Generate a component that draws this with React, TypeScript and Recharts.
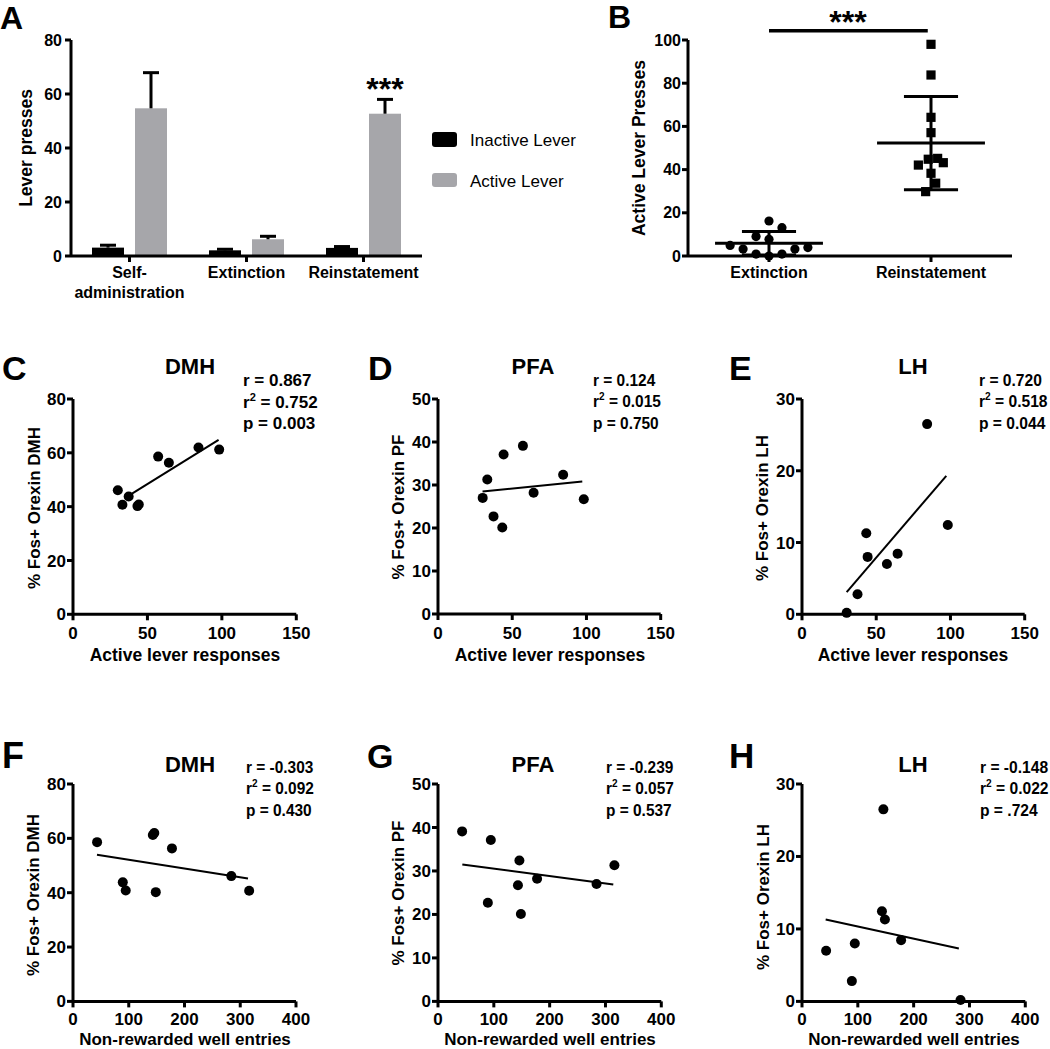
import React from 'react';
import { BarChart, Bar, XAxis, YAxis, ScatterChart, Scatter, ReferenceLine } from 'recharts';

const FONT = 'Arial, "Liberation Sans", Helvetica, sans-serif';

// ---------------- Panel A data ----------------
const phaseCategories = ['Self-administration', 'Extinction', 'Reinstatement'];
const inactiveMeans = [3.1, 2.1, 3.0];
const inactiveSem = [0.9, 0.4, 0.5];
const activeMeans = [54.7, 6.2, 52.7];
const activeSem = [13.2, 1.1, 5.3];
const leverTicks = [0, 20, 40, 60, 80];

// ---------------- Panel B data ----------------
const groupLabels = ['Extinction', 'Reinstatement'];
const groupCenters = [0.5, 1.5];
const extinctionPresses = [16.2, 13.1, 9.0, 7.7, 4.9, 3.2, 3.9, 3.2, 0.9, 0.9, 0.0];
const extinctionJitter = [0, 0.08, -0.08, 0, -0.24, -0.16, 0.24, 0.16, -0.08, 0.08, 0];
const reinstatementPresses = [98.0, 83.8, 64.2, 57.1, 45.2, 44.8, 43.2, 42.1, 38.3, 33.7, 29.8];
const reinstatementJitter = [0, 0, 0, 0, 0.041, -0.017, 0.076, -0.078, 0, 0.029, -0.033];
const groupMeans = [5.9, 52.3];
const groupSD = [5.4, 21.6];
const pressTicks = [0, 20, 40, 60, 80, 100];
const sigBarLevel = 104.3;

// ---------------- Panels C-H data (per animal) ----------------
const activeResponses = [30.1, 33.2, 37.4, 43.3, 44.2, 57.2, 64.4, 84.3, 98.2];
const wellEntries = [284, 316, 89.3, 148.5, 94.6, 43.2, 177.5, 145.8, 143.2];
const fosDMH = [46.1, 40.7, 43.8, 40.2, 40.8, 58.6, 56.3, 62.0, 61.2];
const fosPFA = [27.0, 31.3, 22.7, 20.1, 37.1, 39.1, 28.2, 32.4, 26.7];
const fosLH: (number | null)[] = [0.2, null, 2.8, 11.3, 8.0, 7.0, 8.45, 26.5, 12.45];

const activeTicks = [0, 50, 100, 150];
const wellTicks = [0, 100, 200, 300, 400];
const dmhTicks = [0, 20, 40, 60, 80];
const pfaTicks = [0, 10, 20, 30, 40, 50];
const lhTicks = [0, 10, 20, 30];

// regression line end points [x1, y1, x2, y2]
const fitC = [37.2, 44.0, 97.8, 64.8];
const fitD = [30.0, 28.5, 97.2, 30.8];
const fitE = [30.1, 3.1, 97.2, 19.3];
const fitF = [43.0, 54.0, 313.9, 45.2];
const fitG = [43.6, 31.5, 314.0, 26.9];
const fitH = [42.4, 11.3, 281.0, 7.3];

// stats text [r, r2, p]
const statsC = ['0.867', '0.752', '0.003'];
const statsD = ['0.124', '0.015', '0.750'];
const statsE = ['0.720', '0.518', '0.044'];
const statsF = ['-0.303', '0.092', '0.430'];
const statsG = ['-0.239', '0.057', '0.537'];
const statsH = ['-0.148', '0.022', '.724'];

// ---------------- shared styles ----------------
const axisLineStyle = { stroke: '#000', strokeWidth: 3 };
const tickLineStyle = { stroke: '#000', strokeWidth: 3 };

const dotShape = (props: any) => <circle cx={props.cx} cy={props.cy} r={5} fill="#000" />;
const smallDot = (props: any) => <circle cx={props.cx} cy={props.cy} r={4.6} fill="#000" />;
const squareShape = (props: any) => <rect x={props.cx - 4.6} y={props.cy - 4.6} width={9.2} height={9.2} fill="#000" />;

type Plot = { l: number; t: number; w: number; h: number };

const PAD_L = 60, PAD_T = 20, PAD_R = 20, PAD_B = 56, Y_W = 50, X_H = 46;

function frame(plot: Plot) {
  const W = plot.w + PAD_L + PAD_R;
  const H = plot.h + PAD_T + PAD_B;
  return {
    W,
    H,
    style: { position: 'absolute' as const, left: plot.l - PAD_L, top: plot.t - PAD_T, width: W, height: H },
    margin: { top: PAD_T, right: PAD_R, bottom: PAD_B - X_H, left: PAD_L - Y_W },
  };
}

// ---------------- Panel A ----------------
const barRows = phaseCategories.map((name, i) => ({
  name,
  inactive: inactiveMeans[i],
  active: activeMeans[i],
  inactiveErr: inactiveSem[i],
  activeErr: activeSem[i],
}));

const barWithError = (fill: string, valueKey: string, errKey: string) => (props: any) => {
  const { x, y, width, height, payload } = props;
  const v = payload[valueKey];
  const e = payload[errKey];
  const errPx = v > 0 ? (e * height) / v : 0;
  const cx = x + width / 2;
  const top = y - errPx;
  return (
    <g>
      <rect x={x} y={y} width={width} height={height} fill={fill} />
      <line x1={cx} y1={y} x2={cx} y2={top} stroke="#000" strokeWidth={3} />
      <line x1={cx - 8} x2={cx + 8} y1={top} y2={top} stroke="#000" strokeWidth={3} />
    </g>
  );
};

const PhaseTick = (props: any) => {
  const { x, y, payload } = props;
  const label: string = payload.value;
  const idx = label.indexOf('-');
  const lines = idx > 0 ? [label.slice(0, idx + 1), label.slice(idx + 1)] : [label];
  return (
    <text x={x} y={y} textAnchor="middle" fontSize={16} fontWeight={700} fill="#000" fontFamily={FONT}>
      {lines.map((l, i) => (
        <tspan key={i} x={x} dy={i === 0 ? '0.71em' : '1.2em'}>
          {l}
        </tspan>
      ))}
    </text>
  );
};

function PanelA() {
  const f = frame({ l: 70.7, t: 40, w: 351, h: 216 });
  return (
    <div style={f.style}>
      <BarChart width={f.W} height={f.H} data={barRows} margin={f.margin} barCategoryGap={21} barGap={11}>
        <XAxis
          dataKey="name"
          height={X_H}
          axisLine={axisLineStyle}
          tickLine={tickLineStyle}
          tickSize={6}
          tickMargin={5}
          tick={<PhaseTick />}
          interval={0}
        />
        <YAxis
          domain={[0, 80]}
          ticks={leverTicks}
          width={Y_W}
          axisLine={axisLineStyle}
          tickLine={tickLineStyle}
          tickSize={6}
          tickMargin={3}
          tick={{ fontSize: 16, fontWeight: 700, fill: '#000', fontFamily: FONT }}
          interval={0}
        />
        <Bar dataKey="inactive" fill="#000" isAnimationActive={false} shape={barWithError('#000', 'inactive', 'inactiveErr')} />
        <Bar dataKey="active" fill="#A6A6AA" isAnimationActive={false} shape={barWithError('#A6A6AA', 'active', 'activeErr')} />
      </BarChart>
    </div>
  );
}

// ---------------- Panel B ----------------
const extinctionPoints = extinctionPresses.map((y, i) => ({ x: groupCenters[0] + extinctionJitter[i], y }));
const reinstatementPoints = reinstatementPresses.map((y, i) => ({ x: groupCenters[1] + reinstatementJitter[i], y }));

function PanelB() {
  const f = frame({ l: 688, t: 40, w: 324, h: 216 });
  const MEAN_HALF = 0.333;
  const CAP_HALF = 0.167;
  return (
    <div style={f.style}>
      <ScatterChart width={f.W} height={f.H} margin={f.margin}>
        <XAxis
          type="number"
          dataKey="x"
          domain={[0, 2]}
          ticks={groupCenters}
          tickFormatter={(v: number) => groupLabels[groupCenters.indexOf(v)] ?? ''}
          height={X_H}
          axisLine={axisLineStyle}
          tickLine={tickLineStyle}
          tickSize={6}
          tickMargin={5}
          tick={{ fontSize: 16, fontWeight: 700, fill: '#000', fontFamily: FONT }}
          interval={0}
        />
        <YAxis
          type="number"
          dataKey="y"
          domain={[0, 100]}
          ticks={pressTicks}
          width={Y_W}
          axisLine={axisLineStyle}
          tickLine={tickLineStyle}
          tickSize={6}
          tickMargin={1}
          tick={{ fontSize: 16, fontWeight: 700, fill: '#000', fontFamily: FONT }}
          interval={0}
        />
        {groupCenters.map((c, i) => (
          <ReferenceLine
            key={'m' + i}
            segment={[{ x: c - MEAN_HALF, y: groupMeans[i] }, { x: c + MEAN_HALF, y: groupMeans[i] }]}
            stroke="#000"
            strokeWidth={3}
          />
        ))}
        {groupCenters.map((c, i) => (
          <ReferenceLine
            key={'u' + i}
            segment={[{ x: c - CAP_HALF, y: groupMeans[i] + groupSD[i] }, { x: c + CAP_HALF, y: groupMeans[i] + groupSD[i] }]}
            stroke="#000"
            strokeWidth={3}
          />
        ))}
        {groupCenters.map((c, i) => (
          <ReferenceLine
            key={'l' + i}
            segment={[{ x: c - CAP_HALF, y: groupMeans[i] - groupSD[i] }, { x: c + CAP_HALF, y: groupMeans[i] - groupSD[i] }]}
            stroke="#000"
            strokeWidth={3}
          />
        ))}
        {groupCenters.map((c, i) => (
          <ReferenceLine
            key={'v' + i}
            segment={[{ x: c, y: groupMeans[i] - groupSD[i] }, { x: c, y: groupMeans[i] + groupSD[i] }]}
            stroke="#000"
            strokeWidth={3}
          />
        ))}
        <ReferenceLine
          segment={[{ x: groupCenters[0], y: sigBarLevel }, { x: groupCenters[1] - 0.02, y: sigBarLevel }]}
          stroke="#000"
          strokeWidth={3.5}
          ifOverflow="visible"
        />
        <Scatter data={extinctionPoints} fill="#000" shape={smallDot} isAnimationActive={false} />
        <Scatter data={reinstatementPoints} fill="#000" shape={squareShape} isAnimationActive={false} />
      </ScatterChart>
    </div>
  );
}

// ---------------- Panels C-H ----------------
function buildPoints(xs: number[], ys: (number | null)[]) {
  const out: { x: number; y: number }[] = [];
  xs.forEach((x, i) => {
    const y = ys[i];
    if (y !== null && y !== undefined) out.push({ x, y });
  });
  return out;
}

type ScatterPanelProps = {
  plot: Plot;
  points: { x: number; y: number }[];
  xDomain: [number, number];
  xTicks: number[];
  yDomain: [number, number];
  yTicks: number[];
  fit: number[];
  xTickMargin: number;
};

function ScatterPanel({ plot, points, xDomain, xTicks, yDomain, yTicks, fit, xTickMargin }: ScatterPanelProps) {
  const f = frame(plot);
  const tickFont = { fontSize: 17, fontWeight: 700, fill: '#000', fontFamily: FONT };
  return (
    <div style={f.style}>
      <ScatterChart width={f.W} height={f.H} margin={f.margin}>
        <XAxis
          type="number"
          dataKey="x"
          domain={xDomain}
          ticks={xTicks}
          height={X_H}
          axisLine={axisLineStyle}
          tickLine={tickLineStyle}
          tickSize={6}
          tickMargin={xTickMargin}
          tick={tickFont}
          interval={0}
        />
        <YAxis
          type="number"
          dataKey="y"
          domain={yDomain}
          ticks={yTicks}
          width={Y_W}
          axisLine={axisLineStyle}
          tickLine={tickLineStyle}
          tickSize={6}
          tickMargin={1}
          tick={tickFont}
          interval={0}
        />
        <ReferenceLine
          segment={[{ x: fit[0], y: fit[1] }, { x: fit[2], y: fit[3] }]}
          stroke="#000"
          strokeWidth={2}
        />
        <Scatter data={points} fill="#000" shape={dotShape} isAnimationActive={false} />
      </ScatterChart>
    </div>
  );
}

const scatterPanels: ScatterPanelProps[] = [
  { plot: { l: 72.7, t: 399, w: 223.3, h: 215.3 }, points: buildPoints(activeResponses, fosDMH), xDomain: [0, 150], xTicks: activeTicks, yDomain: [0, 80], yTicks: dmhTicks, fit: fitC, xTickMargin: 7 },
  { plot: { l: 438, t: 399.3, w: 222.7, h: 215 }, points: buildPoints(activeResponses, fosPFA), xDomain: [0, 150], xTicks: activeTicks, yDomain: [0, 50], yTicks: pfaTicks, fit: fitD, xTickMargin: 7 },
  { plot: { l: 802.3, t: 399, w: 222.7, h: 215.3 }, points: buildPoints(activeResponses, fosLH), xDomain: [0, 150], xTicks: activeTicks, yDomain: [0, 30], yTicks: lhTicks, fit: fitE, xTickMargin: 7 },
  { plot: { l: 73, t: 784.3, w: 223, h: 217.4 }, points: buildPoints(wellEntries, fosDMH), xDomain: [0, 400], xTicks: wellTicks, yDomain: [0, 80], yTicks: dmhTicks, fit: fitF, xTickMargin: 6 },
  { plot: { l: 438, t: 784.3, w: 223.3, h: 217.4 }, points: buildPoints(wellEntries, fosPFA), xDomain: [0, 400], xTicks: wellTicks, yDomain: [0, 50], yTicks: pfaTicks, fit: fitG, xTickMargin: 6 },
  { plot: { l: 802, t: 784.3, w: 223.3, h: 217.4 }, points: buildPoints(wellEntries, fosLH), xDomain: [0, 400], xTicks: wellTicks, yDomain: [0, 30], yTicks: lhTicks, fit: fitH, xTickMargin: 6 },
];

// ---------------- text overlay ----------------
const panelLetters = [
  { t: 'A', x: 0, y: 29, s: 32 },
  { t: 'B', x: 608, y: 28, s: 32 },
  { t: 'C', x: 2, y: 380, s: 34 },
  { t: 'D', x: 368, y: 380, s: 34 },
  { t: 'E', x: 729, y: 380, s: 34 },
  { t: 'F', x: 2, y: 768, s: 36 },
  { t: 'G', x: 367, y: 768, s: 34 },
  { t: 'H', x: 729, y: 768, s: 35 },
];

const titles = [
  { t: 'DMH', x: 190, y: 374 },
  { t: 'PFA', x: 533, y: 374 },
  { t: 'LH', x: 913, y: 374 },
  { t: 'DMH', x: 190, y: 772 },
  { t: 'PFA', x: 533, y: 772 },
  { t: 'LH', x: 913, y: 772 },
];

const statBlocks = [
  { s: statsC, x: 243, y: 386, f: 17, sx: 1 },
  { s: statsD, x: 593, y: 386, f: 16, sx: 0.966 },
  { s: statsE, x: 979, y: 386, f: 16, sx: 0.975 },
  { s: statsF, x: 246, y: 773, f: 16, sx: 0.965 },
  { s: statsG, x: 606, y: 773, f: 16, sx: 0.965 },
  { s: statsH, x: 980, y: 773, f: 16, sx: 0.975 },
];

const yLabels = [
  { t: 'Lever presses', x: 32, y: 148, s: 17.5 },
  { t: 'Active Lever Presses', x: 645, y: 148, s: 17.5 },
  { t: '% Fos+ Orexin DMH', x: 40, y: 508, s: 17 },
  { t: '% Fos+ Orexin PF', x: 404, y: 507, s: 17 },
  { t: '% Fos+ Orexin LH', x: 768, y: 508, s: 17 },
  { t: '% Fos+ Orexin DMH', x: 39, y: 895, s: 17 },
  { t: '% Fos+ Orexin PF', x: 404, y: 893, s: 17 },
  { t: '% Fos+ Orexin LH', x: 769, y: 897, s: 17 },
];

const xLabels = [
  { t: 'Active lever responses', x: 185, y: 661, s: 17.5 },
  { t: 'Active lever responses', x: 550, y: 661, s: 17.5 },
  { t: 'Active lever responses', x: 913, y: 661, s: 17.5 },
  { t: 'Non-rewarded well entries', x: 185, y: 1045.3, s: 17 },
  { t: 'Non-rewarded well entries', x: 550, y: 1045.3, s: 17 },
  { t: 'Non-rewarded well entries', x: 914, y: 1045.3, s: 17 },
];

function Overlay() {
  return (
    <svg
      width={1050}
      height={1049}
      style={{ position: 'absolute', left: 0, top: 0, pointerEvents: 'none' }}
      fontFamily={FONT}
    >
      {panelLetters.map((p) => (
        <text key={p.t} x={p.x} y={p.y} fontSize={p.s} fontWeight={700} fill="#000">
          {p.t}
        </text>
      ))}
      {titles.map((p, i) => (
        <text key={'t' + i} x={p.x} y={p.y} fontSize={22} fontWeight={700} textAnchor="middle" fill="#000">
          {p.t}
        </text>
      ))}
      {statBlocks.map((b, i) => (
        <g
          key={'s' + i}
          fontSize={b.f}
          fontWeight={700}
          fill="#000"
          transform={`translate(${b.x}, ${b.y}) scale(${b.sx}, 1)`}
        >
          <text x={0} y={0}>{'r = ' + b.s[0]}</text>
          <text x={0} y={21.5}>
            <tspan>r</tspan>
            <tspan fontSize={b.f * 0.65} dy={-7}>2</tspan>
            <tspan dy={7}>{' = ' + b.s[1]}</tspan>
          </text>
          <text x={0} y={43}>{'p = ' + b.s[2]}</text>
        </g>
      ))}
      {yLabels.map((p, i) => (
        <text
          key={'y' + i}
          x={p.x}
          y={p.y}
          fontSize={p.s}
          fontWeight={700}
          textAnchor="middle"
          fill="#000"
          transform={`rotate(-90, ${p.x}, ${p.y})`}
        >
          {p.t}
        </text>
      ))}
      {xLabels.map((p, i) => (
        <text key={'x' + i} x={p.x} y={p.y} fontSize={p.s} fontWeight={700} textAnchor="middle" fill="#000">
          {p.t}
        </text>
      ))}
      {/* legend for panel A */}
      <rect x={432} y={132} width={25} height={15} rx={3} fill="#000" />
      <text x={470} y={145.5} fontSize={17} fill="#000">Inactive Lever</text>
      <rect x={432} y={173} width={25} height={14} rx={3} fill="#A6A6AA" />
      <text x={470} y={186.5} fontSize={17} fill="#000">Active Lever</text>
      {/* significance marks */}
      <text x={385} y={100} fontSize={32} fontWeight={700} textAnchor="middle" fill="#000">***</text>
      <text x={848} y={33} fontSize={32} fontWeight={700} textAnchor="middle" fill="#000">***</text>
    </svg>
  );
}

export default function App() {
  return (
    <div
      style={{
        position: 'absolute',
        left: 0,
        top: 0,
        width: 1050,
        height: 1049,
        background: '#fff',
        overflow: 'hidden',
        fontFamily: FONT,
      }}
    >
      <PanelA />
      <PanelB />
      {scatterPanels.map((p, i) => (
        <ScatterPanel key={i} {...p} />
      ))}
      <Overlay />
    </div>
  );
}
